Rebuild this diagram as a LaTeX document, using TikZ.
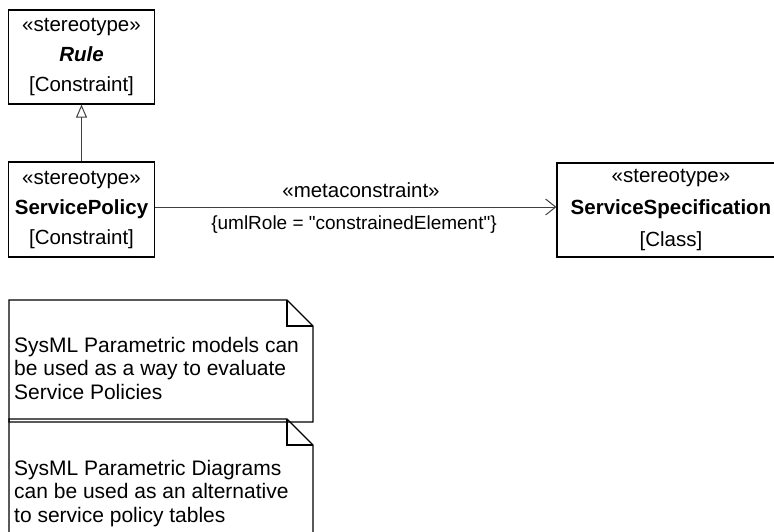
\documentclass[tikz,border=0pt]{standalone}
\usepackage{fontspec}
\setmainfont{Liberation Sans}[Ligatures=TeXOff]
\usetikzlibrary{arrows.meta}
\begin{document}
\begin{tikzpicture}[x=1pt,y=-1pt,
  cls/.style={draw=black, line width=1.2pt, minimum height=94pt, align=center,
    font=\fontsize{20.5}{30}\selectfont, inner sep=0pt},
  lbl/.style={font=\fontsize{20.5}{24}\selectfont, inner sep=0pt},
  notetext/.style={font=\fontsize{21}{23.5}\selectfont, align=left, anchor=north west, inner sep=0pt},
  noteline/.style={draw=black, line width=1.2pt, line join=miter},
  conn/.style={draw=black!75, line width=1pt}
]
\useasboundingbox (0,0) rectangle (774,531);
\begin{scope}
\clip (0,0) rectangle (774,531);
\node[cls, minimum width=146pt] (rule) at (81.5,57) {«stereotype»\\\textbf{\textit{Rule}}\\{[Constraint]}};
\node[cls, minimum width=146pt, minimum height=95pt] (sp) at (81.5,209.5) {«stereotype»\\\textbf{ServicePolicy}\\{[Constraint]}};
\node[cls, minimum width=228pt, font=\fontsize{20.5}{32}\selectfont] (ss) at (671,210) {«stereotype»\\\textbf{ServiceSpecification}\\{[Class]}};

\draw[conn, -{Triangle[open, length=13pt, width=11pt]}] (sp.north) -- (rule.south);
\coordinate (a1) at ([yshift=2.5pt]sp.east);
\draw[conn, -{Straight Barb[length=10pt, width=16pt, line width=1pt]}] (a1) -- (a1 -| ss.west);
\node[lbl] (mc) at (361,190) {«metaconstraint»};
\node[lbl, font=\fontsize{19}{22}\selectfont] (role) at (354,225) {\{umlRole = "constrainedElement"\}};

% note 1
\draw[noteline] (9,300) -- (287,300) -- (313,326) -- (313,422) -- (9,422) -- cycle;
\draw[noteline] (287,300) -- (287,326) -- (313,326);
\node[notetext] (n1) at (14,337) {SysML Parametric models can\\be used as a way to evaluate\\Service Policies};
% note 2
\draw[noteline] (9,419) -- (287,419) -- (313,445) -- (313,545) -- (9,545) -- cycle;
\draw[noteline] (287,419) -- (287,445) -- (313,445);
\node[notetext] (n2) at (14,460) {SysML Parametric Diagrams\\can be used as an alternative\\to service policy tables};
\end{scope}
\end{tikzpicture}
\end{document}
